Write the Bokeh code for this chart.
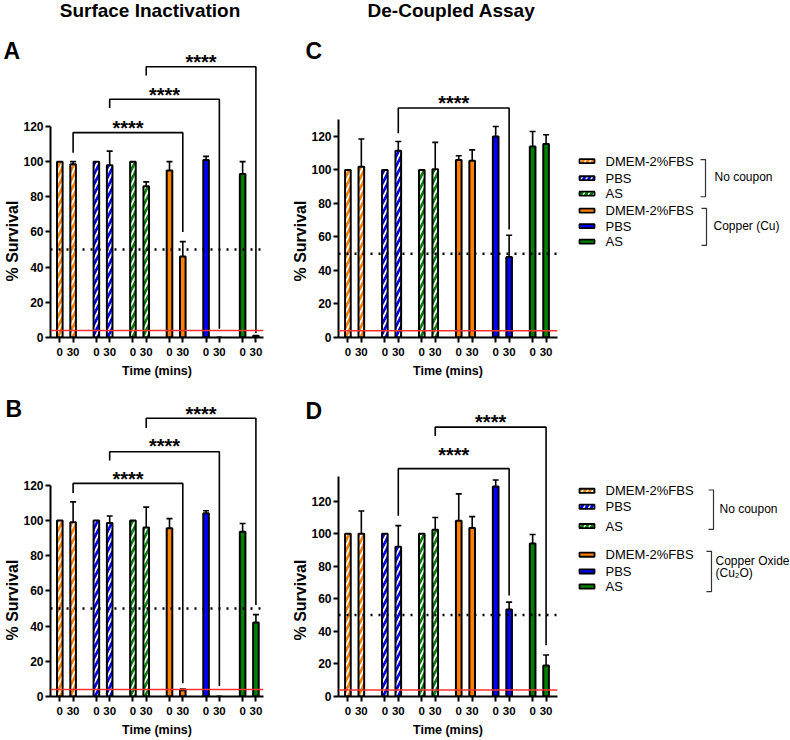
from bokeh.plotting import figure
from bokeh.models import Range1d, FixedTicker, Span, Whisker, TeeHead, ColumnDataSource, Label, Title
from bokeh.layouts import row, column
from bokeh.embed import file_html
from bokeh.resources import INLINE
from bokeh.core.properties import value, field

FONT = "Liberation Sans"

# ---------------- data ----------------
media = ["DMEM-2%FBS", "PBS", "AS", "DMEM-2%FBS", "PBS", "AS"]
media_colors = ["#FF8000", "#0000FF", "#008000", "#FF8000", "#0000FF", "#008000"]
no_coupon = [True, True, True, False, False, False]
time_labels = ["0", "30"]
y_ticks = [0, 20, 40, 60, 80, 100, 120]
group_labels_top = ["No coupon", "Copper (Cu)"]
group_labels_bottom = ["No coupon", "Copper Oxide", "(Cu\u2082O)"]

# Panel A - Surface inactivation, copper
A_t0 = [100, 100, 100, 95, 101, 93]
A_t0_err = [0, 0, 0, 5, 2, 7]
A_t30 = [98.5, 98, 86, 46, 0, 1]
A_t30_err = [1.5, 8, 2.5, 8.5, 0, 0]
A_brk_from = [0, 1, 2]
A_brk_to = [3, 4, 5]
A_brk_left = [105, 130.5, 149]
A_brk_top = [116.5, 135.5, 154]
A_brk_right = [60, 5, 2.5]
A_star_y = [122, 141, 159.5]

# Panel C - De-coupled, copper
C_t0 = [100, 100, 100, 106, 120, 114]
C_t0_err = [0, 0, 0, 2.5, 6, 9]
C_t30 = [102, 111.5, 100.5, 105.5, 48, 115.5]
C_t30_err = [16.5, 5.5, 16, 6.5, 13, 5.5]
C_brk_from = [1]
C_brk_to = [4]
C_brk_left = [122]
C_brk_top = [137]
C_brk_right = [64.5]
C_star_y = [143]

# Panel B - Surface inactivation, copper oxide
B_t0 = [100, 100, 100, 95.5, 104, 93.5]
B_t0_err = [0, 0, 0, 5.5, 1.5, 4.7]
B_t30 = [99, 98.5, 96, 3.5, 0, 42]
B_t30_err = [11.5, 4, 11.5, 0.7, 0, 4.5]
B_brk_from = [0, 1, 2]
B_brk_to = [3, 4, 5]
B_brk_left = [115.5, 134, 152.5]
B_brk_top = [121, 139, 158]
B_brk_right = [7.5, 6, 52]
B_star_y = [126.5, 145, 163.5]

# Panel D - De-coupled, copper oxide
D_t0 = [100, 100, 100, 108, 129, 94]
D_t0_err = [0, 0, 0, 16.5, 4, 5.5]
D_t30 = [100, 92, 102.5, 103.5, 53.5, 19]
D_t30_err = [14, 13, 7.5, 7, 4.5, 6.5]
D_brk_from = [1, 2]
D_brk_to = [4, 5]
D_brk_left = [111, 160]
D_brk_top = [140, 165.5]
D_brk_right = [62, 31.5]
D_star_y = [151.5, 172]

HALF_LINE = 50
LOD = 4

GROUP_STEP = 2.75
X_START = -0.7


def bar_x(g, t):
    return g * GROUP_STEP + t


def style_axes(p, y_axis_top):
    for ax in (p.xaxis[0], p.yaxis[0]):
        ax.axis_line_width = 2
        ax.axis_line_color = "black"
        ax.major_tick_line_width = 2
        ax.major_tick_line_color = "black"
        ax.major_tick_out = 5
        ax.major_tick_in = 0
        ax.minor_tick_line_color = None
        ax.major_label_text_font = FONT
        ax.major_label_text_font_style = "bold"
        ax.major_label_text_color = "black"
        ax.axis_label_text_font = FONT
        ax.axis_label_text_font_style = "bold"
        ax.axis_label_text_color = "black"
    ticks = []
    overrides = {}
    for g in range(6):
        for t in range(2):
            x = bar_x(g, t)
            ticks.append(x)
            overrides[x] = time_labels[t]
    xa = p.xaxis[0]
    xa.ticker = FixedTicker(ticks=ticks)
    xa.major_label_overrides = overrides
    xa.major_label_text_font_size = "11.5px"
    xa.axis_label = "Time (mins)"
    xa.axis_label_text_font_size = "12.5px"
    xa.major_label_standoff = 5
    xa.axis_label_standoff = 5
    ya = p.yaxis[0]
    ya.ticker = FixedTicker(ticks=y_ticks)
    ya.bounds = (0, y_axis_top)
    ya.major_label_text_font_size = "12px"
    ya.major_label_standoff = 2
    # y-axis title, anchored near the bottom of the axis like the original
    p.add_layout(Title(text="% Survival", align="left", offset=56, standoff=0,
                       text_font=FONT, text_font_size="16px", text_font_style="bold",
                       text_color="black"), "left")
    p.xgrid.visible = False
    p.ygrid.visible = False
    p.outline_line_color = None


def make_panel(t0, e0, t30, e30, bfrom, bto, bleft, btop, bright, stary,
               W, H, L, R, T, B, xend, yend, y_axis_top):
    p = figure(width=W, height=H, x_range=Range1d(X_START, xend), y_range=Range1d(0, yend),
               output_backend="svg", toolbar_location=None,
               min_border_left=L, min_border_right=R, min_border_top=T, min_border_bottom=B,
               background_fill_color="white", border_fill_color="white")
    xs, tops, cols, hps, errs = [], [], [], [], []
    for g in range(6):
        for t, (vals, ev) in enumerate([(t0, e0), (t30, e30)]):
            xs.append(bar_x(g, t))
            tops.append(vals[g])
            errs.append(ev[g])
            cols.append(media_colors[g])
            hps.append("/" if no_coupon[g] else " ")
    src = ColumnDataSource(dict(x=xs, top=tops, col=cols, hp=hps))
    p.vbar(x="x", top="top", bottom=0, width=0.42, source=src,
           fill_color="col", line_color="black", line_width=2,
           hatch_pattern=field("hp"), hatch_color="white", hatch_weight=1.8, hatch_scale=10)
    wx = [x for x, e in zip(xs, errs) if e > 0]
    wl = [v for v, e in zip(tops, errs) if e > 0]
    wu = [v + e for v, e in zip(tops, errs) if e > 0]
    wsrc = ColumnDataSource(dict(base=wx, lower=wl, upper=wu))
    p.add_layout(Whisker(base="base", lower="lower", upper="upper", source=wsrc, dimension="height",
                         line_color="black", line_width=1.6,
                         upper_head=TeeHead(size=6, line_width=1.6, line_color="black"),
                         lower_head=None))
    p.add_layout(Span(location=HALF_LINE, dimension="width", line_color="black",
                      line_width=2.5, line_dash="2 6"))
    p.add_layout(Span(location=LOD, dimension="width", line_color="#FF3030", line_width=1.5))
    bxs, bys, sx = [], [], []
    for i in range(len(bfrom)):
        x1 = bar_x(bfrom[i], 1)
        x2 = bar_x(bto[i], 1)
        bxs.append([x1, x1, x2, x2])
        bys.append([bleft[i], btop[i], btop[i], bright[i]])
        sx.append((x1 + x2) / 2)
    p.multi_line(xs=bxs, ys=bys, line_color="black", line_width=1.6)
    p.text(x=sx, y=stary, text=["****"] * len(sx), text_font=value(FONT),
           text_font_style="bold", text_font_size="20px", text_align="center",
           text_baseline="middle", y_offset=5, text_color="black")
    style_axes(p, y_axis_top)
    return p


def add_label(p, geom, img_x, img_y, text, size, align, side):
    fl, fb, pxx, pyy, x0 = geom
    x = x0 + (img_x - fl) / pxx
    y = (fb - img_y) / pyy
    p.add_layout(Label(x=x, y=y, text=text, text_font=FONT, text_font_style="bold",
                       text_font_size=size, text_align=align, text_baseline="middle",
                       text_color="black"), side)


def make_legend(W, H, rows_y, brackets, group_texts):
    p = figure(width=W, height=H, x_range=Range1d(0, W), y_range=Range1d(H, 0),
               output_backend="svg", toolbar_location=None,
               min_border_left=0, min_border_right=0, min_border_top=0, min_border_bottom=0)
    p.axis.visible = False
    p.xgrid.visible = False
    p.ygrid.visible = False
    p.outline_line_color = None
    hps = ["/" if nc else " " for nc in no_coupon]
    src = ColumnDataSource(dict(x=[9.5] * 6, y=rows_y, col=media_colors, hp=hps,
                                tx=[28] * 6, label=media))
    p.rect(x="x", y="y", width=15, height=5, source=src, fill_color="col",
           line_color="black", line_width=1.8, hatch_pattern=field("hp"),
           hatch_color="white", hatch_weight=1.5, hatch_scale=10)
    p.text(x="tx", y="y", text="label", source=src, text_font=value(FONT),
           text_font_size="13px", text_align="left", text_baseline="middle",
           text_color="black")
    for (bx, y0, y1, tx, tys), lines in zip(brackets, group_texts):
        p.line(x=[bx - 5, bx, bx, bx - 5], y=[y0, y0, y1, y1], line_color="#333333", line_width=1.2)
        p.text(x=[tx] * len(lines), y=tys, text=lines, text_font=value(FONT),
               text_font_size="12px", text_align="left", text_baseline="middle",
               text_color="black")
    return p


# ---------------- geometry ----------------
LW, LL, LR = 288, 50, 25
RW, RL, RR = 289, 50, 20
GW = 790 - LW - RW
H1, T1, B1 = 384, 40, 47
H2, T2, B2 = 355, 14, 42
XEND_L = 15.32
XEND_R = 15.6
Y_A, Y_C, Y_B, Y_D = 168.9, 177.3, 169.2, 183.1

pA = make_panel(A_t0, A_t0_err, A_t30, A_t30_err, A_brk_from, A_brk_to, A_brk_left, A_brk_top,
                A_brk_right, A_star_y, LW, H1, LL, LR, T1, B1, XEND_L, Y_A, 120)
pC = make_panel(C_t0, C_t0_err, C_t30, C_t30_err, C_brk_from, C_brk_to, C_brk_left, C_brk_top,
                C_brk_right, C_star_y, RW, H1, RL, RR, T1, B1, XEND_R, Y_C, 130)
pB = make_panel(B_t0, B_t0_err, B_t30, B_t30_err, B_brk_from, B_brk_to, B_brk_left, B_brk_top,
                B_brk_right, B_star_y, LW, H2, LL, LR, T2, B2, XEND_L, Y_B, 120)
pD = make_panel(D_t0, D_t0_err, D_t30, D_t30_err, D_brk_from, D_brk_to, D_brk_left, D_brk_top,
                D_brk_right, D_star_y, RW, H2, RL, RR, T2, B2, XEND_R, Y_D, 135)

fwL = LW - LL - LR
fwR = RW - RL - RR
fh1 = H1 - T1 - B1
fh2 = H2 - T2 - B2
gA = (LL, H1 - B1, fwL / (XEND_L - X_START), fh1 / Y_A, X_START)
gC = (LW + RL, H1 - B1, fwR / (XEND_R - X_START), fh1 / Y_C, X_START)
gB = (LL, H1 + H2 - B2, fwL / (XEND_L - X_START), fh2 / Y_B, X_START)
gD = (LW + RL, H1 + H2 - B2, fwR / (XEND_R - X_START), fh2 / Y_D, X_START)

add_label(pA, gA, 149.5, 10, "Surface Inactivation", "19px", "center", "above")
add_label(pA, gA, 3, 50, "A", "23px", "left", "right")
add_label(pC, gC, 451, 10, "De-Coupled Assay", "19px", "center", "above")
add_label(pC, gC, 305, 50, "C", "23px", "left", "right")
add_label(pB, gB, 5, 409, "B", "23px", "left", "right")
add_label(pD, gD, 305, 411, "D", "23px", "left", "right")

legC = make_legend(GW, H1, [156, 178, 198, 220, 240, 260],
                   [(128, 154, 202, 137, [176]), (129, 217, 265, 136, [240])],
                   [[group_labels_top[0]], [group_labels_top[1]]])
legD = make_legend(GW, H2, [110, 129, 152, 186, 206, 224],
                   [(136, 109, 156, 142, [132]), (134, 182, 230, 138, [194, 208])],
                   [[group_labels_bottom[0]], group_labels_bottom[1:]])

layout = column(row(pA, pC, legC), row(pB, pD, legD))

with open("out.html", "w") as f:
    f.write(file_html(layout, INLINE))
